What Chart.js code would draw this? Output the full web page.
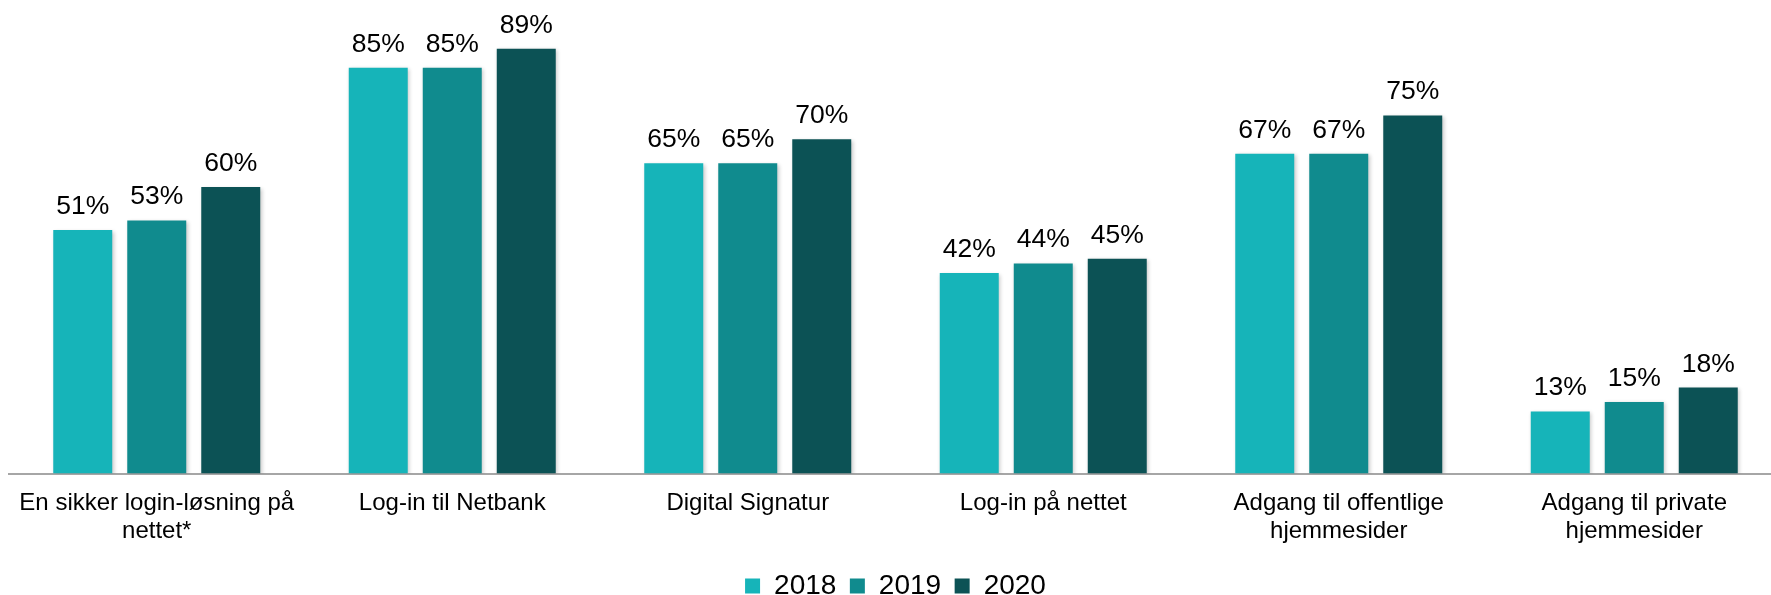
<!DOCTYPE html>
<html>
<head>
<meta charset="utf-8">
<script src="https://cdn.jsdelivr.net/npm/chart.js@4"></script>
<style>
  html, body { margin: 0; padding: 0; background: #ffffff; }
  #wrap { width: 1771px; height: 595px; overflow: hidden; position: relative; background: #fff; }
  canvas { display: block; }
</style>
</head>
<body>
<div id="wrap"><canvas id="c" width="1800" height="610"></canvas></div>
<script>
const categories = [
  ["En sikker login-løsning på", "nettet*"],
  "Log-in til Netbank",
  "Digital Signatur",
  "Log-in på nettet",
  ["Adgang til offentlige", "hjemmesider"],
  ["Adgang til private", "hjemmesider"]
];
const seriesNames = ["2018", "2019", "2020"];
const values2018 = [51, 85, 65, 42, 67, 13];
const values2019 = [53, 85, 65, 44, 67, 15];
const values2020 = [60, 89, 70, 45, 75, 18];
const colors = ["#16B4B9", "#108B8E", "#0C5255"];

const FONT = "'Liberation Sans', Arial, Helvetica, sans-serif";

const shadowPlugin = {
  id: 'barShadow',
  beforeDatasetsDraw(chart) {
    const ctx = chart.ctx;
    ctx.save();
    ctx.shadowColor = 'rgba(0,0,0,0.22)';
    ctx.shadowBlur = 4;
    ctx.shadowOffsetX = 1.5;
    ctx.shadowOffsetY = 1.5;
  },
  afterDatasetsDraw(chart) {
    chart.ctx.restore();
  }
};

const labelPlugin = {
  id: 'valueLabels',
  afterDatasetsDraw(chart) {
    const ctx = chart.ctx;
    ctx.save();
    ctx.shadowColor = 'transparent';
    ctx.font = "26.5px " + FONT;
    ctx.fillStyle = '#000000';
    ctx.textAlign = 'center';
    ctx.textBaseline = 'alphabetic';
    chart.data.datasets.forEach((ds, i) => {
      const meta = chart.getDatasetMeta(i);
      meta.data.forEach((bar, j) => {
        ctx.fillText(ds.data[j] + '%', bar.x, bar.y - 16);
      });
    });
    ctx.restore();
  }
};

new Chart(document.getElementById('c'), {
  type: 'bar',
  data: {
    labels: categories,
    datasets: [
      { label: seriesNames[0], data: values2018, backgroundColor: colors[0] },
      { label: seriesNames[1], data: values2019, backgroundColor: colors[1] },
      { label: seriesNames[2], data: values2020, backgroundColor: colors[2] }
    ]
  },
  options: {
    responsive: false,
    animation: false,
    devicePixelRatio: 1,
    layout: { padding: { top: 20, left: 9, right: 18, bottom: 0 } },
    datasets: {
      bar: { categoryPercentage: 0.7513, barPercentage: 0.797, borderWidth: 0 }
    },
    scales: {
      x: {
        grid: { display: false, drawTicks: false },
        border: { display: true, color: '#a6a6a6', width: 2 },
        ticks: {
          color: '#000000',
          font: { family: FONT, size: 24 },
          padding: 15,
          maxRotation: 0,
          autoSkip: false
        },
        afterFit(scale) { scale.height = 85; }
      },
      y: {
        display: false,
        min: 0,
        max: 95
      }
    },
    plugins: {
      legend: {
        position: 'bottom',
        labels: {
          boxWidth: 15,
          boxHeight: 15,
          padding: 13.5,
          color: '#000000',
          font: { family: FONT, size: 28 }
        }
      },
      tooltip: { enabled: false }
    }
  },
  plugins: [shadowPlugin, labelPlugin]
});
</script>
</body>
</html>
